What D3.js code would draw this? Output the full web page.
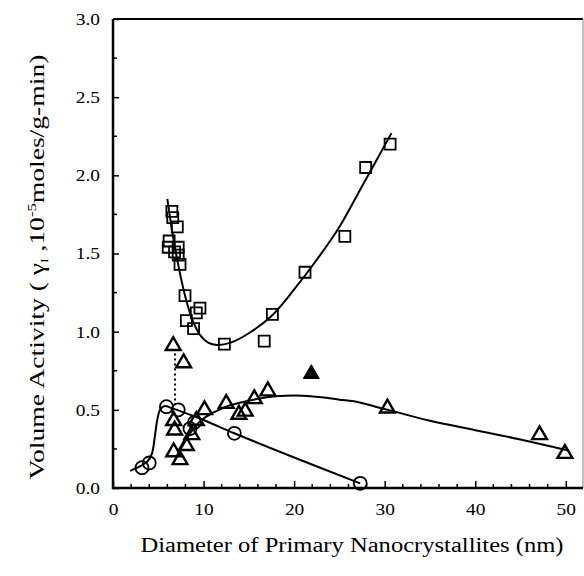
<!DOCTYPE html>
<html>
<head>
<meta charset="utf-8">
<script src="https://cdn.jsdelivr.net/npm/d3@7"></script>
<style>
  body { margin: 0; background: #fff; }
</style>
</head>
<body>
<div id="chart"></div>
<script>
var width = 584, height = 576;
var padding = { t: 19, r: 1, b: 88, l: 113 };
var chartWidth = width - padding.l - padding.r;
var chartHeight = height - padding.t - padding.b;
var serif = "'Liberation Serif', 'Times New Roman', Times, serif";
var stretch = 1.14; //the scanned figure is a bit wider than plain Times

//Open squares [diameter, activity]
var squares = [[6.1,1.54],[6.2,1.58],[6.5,1.77],[6.6,1.73],[7.1,1.67],[6.8,1.51],[7.2,1.54],
    [7.2,1.49],[7.4,1.43],[7.95,1.23],[8.1,1.07],[8.9,1.02],[9.2,1.12],[9.6,1.15],
    [12.3,0.92],[16.7,0.94],[17.6,1.11],[21.2,1.38],[25.6,1.61],[27.9,2.05],[30.6,2.20]];
var squareFit = [[6.0,1.85],[6.6,1.62],[7.3,1.40],[8.0,1.22],[8.8,1.07],[9.6,0.98],[10.5,0.93],
    [11.5,0.915],[13,0.93],[15,0.99],[17.5,1.10],[20,1.27],[22.5,1.46],[25,1.67],[27.5,1.93],[30.75,2.27]];

//Open triangles
var triangles = [[6.65,0.91],[7.8,0.80],[6.7,0.43],[6.8,0.37],[6.7,0.23],[7.4,0.18],[8.1,0.27],
    [8.7,0.34],[9.2,0.43],[10.1,0.50],[12.5,0.54],[13.9,0.47],[14.6,0.49],[15.6,0.57],
    [17.1,0.62],[30.3,0.51],[47.1,0.34],[49.9,0.22]];
var triangleFit = [[7.0,0.20],[8.0,0.30],[9.0,0.39],[10,0.445],[11,0.48],[12.5,0.52],[14,0.545],
    [15.5,0.565],[17,0.58],[19,0.59],[21,0.59],[23,0.58],[25,0.565],[27,0.55],[29,0.52],
    [31,0.49],[35,0.43],[40,0.37],[45,0.31],[50.3,0.24]];

//Filled triangle
var filledTriangles = [[21.9,0.73]];

//Open circles
var circles = [[3.2,0.13],[4.0,0.16],[5.9,0.52],[7.2,0.50],[8.5,0.38],[9.0,0.42],[13.4,0.35],[27.3,0.03]];
var circleFit = [[1.9,0.11],[3.0,0.14],[3.8,0.17],[4.3,0.22],[4.6,0.32],[4.9,0.44],[5.2,0.50],
    [5.7,0.525],[6.5,0.51],[7.5,0.49],[10,0.435],[13.4,0.35],[20,0.195],[27.3,0.03]];

//Dotted connector
var dotted = [[6.85,0.86],[6.85,0.53]];

var xTicks = [0, 10, 20, 30, 40, 50];
var yTicks = [0, 0.5, 1.0, 1.5, 2.0, 2.5, 3.0];

var svg = d3.select("#chart").append("svg")
    .attr("width", width)
    .attr("height", height);

var g = svg.append("g").attr("transform", `translate(${padding.l}, ${padding.t})`);

var xScale = d3.scaleLinear().domain([0, 51.9]).range([0, chartWidth]);
var yScale = d3.scaleLinear().domain([0, 3.0]).range([chartHeight, 0]);

//Frame: thick left/bottom/top, thin right
g.append("line").attr("x1", 0).attr("x2", chartWidth).attr("y1", 0).attr("y2", 0)
    .attr("stroke", "#000").attr("stroke-width", 2);
g.append("line").attr("x1", chartWidth).attr("x2", chartWidth).attr("y1", 0).attr("y2", chartHeight)
    .attr("stroke", "#888").attr("stroke-width", 1);

//Minor ticks, inward
var xMinor = d3.range(2, 52, 2).filter(d => d % 10 !== 0);
g.selectAll(".xminor").data(xMinor).enter().append("line")
    .attr("x1", d => xScale(d)).attr("x2", d => xScale(d))
    .attr("y1", chartHeight).attr("y2", chartHeight - 4)
    .attr("stroke", "#000").attr("stroke-width", 1.5);
var yMinor = d3.range(0.25, 3, 0.5);
g.selectAll(".yminor").data(yMinor).enter().append("line")
    .attr("x1", 0).attr("x2", 4)
    .attr("y1", d => yScale(d)).attr("y2", d => yScale(d))
    .attr("stroke", "#000").attr("stroke-width", 1.5);

var xAxis = g.append("g").attr("transform", `translate(0, ${chartHeight})`)
    .call(d3.axisBottom(xScale).tickValues(xTicks).tickSizeInner(-7).tickSizeOuter(0).tickPadding(15)
        .tickFormat(d3.format("d")));
var yAxis = g.append("g")
    .call(d3.axisLeft(yScale).tickValues(yTicks).tickSizeInner(-6).tickSizeOuter(0).tickPadding(13)
        .tickFormat(d3.format(".1f")));

[xAxis, yAxis].forEach(a => {
    a.attr("font-family", serif).attr("font-size", 17);
    a.select(".domain").attr("stroke-width", 2.5);
    a.selectAll(".tick line").attr("stroke-width", 1.5);
    a.selectAll("text").attr("fill", "#000").each(function () {
        var w = this.getComputedTextLength();
        d3.select(this).attr("textLength", w * stretch).attr("lengthAdjust", "spacingAndGlyphs");
    });
});
xAxis.select(".domain").attr("d", `M-1,0H${chartWidth}`);
yAxis.select(".domain").attr("d", `M0,0V${chartHeight + 1}`);

//Axis titles
svg.append("text")
    .attr("x", 352)
    .attr("y", 552)
    .attr("text-anchor", "middle")
    .attr("font-family", serif)
    .attr("font-size", 20)
    .attr("textLength", 423)
    .attr("lengthAdjust", "spacingAndGlyphs")
    .text("Diameter of Primary Nanocrystallites (nm)");

var yTitle = svg.append("text")
    .attr("text-anchor", "middle")
    .attr("font-family", serif)
    .attr("font-size", 20);
yTitle.append("tspan").text("Volume Activity ( γ");
yTitle.append("tspan").attr("dy", 4).attr("font-size", 10).text("I");
yTitle.append("tspan").attr("dy", -4).text(" ,10");
yTitle.append("tspan").attr("dy", -8).attr("font-size", 12).text("-5");
yTitle.append("tspan").attr("dy", 8).text("moles/g-min)");
var yTitleLen = yTitle.node().getComputedTextLength();
yTitle.attr("transform", `translate(44, 267) rotate(-90) scale(${425 / yTitleLen}, 1)`);

//Fit lines
var line = d3.line()
    .x(d => xScale(d[0]))
    .y(d => yScale(d[1]))
    .curve(d3.curveCatmullRom.alpha(0.5));

[squareFit, triangleFit, circleFit].forEach(f => {
    g.append("path").datum(f).attr("d", line)
        .attr("fill", "none").attr("stroke", "#000").attr("stroke-width", 2);
});

g.append("path").datum(dotted)
    .attr("d", d3.line().x(d => xScale(d[0])).y(d => yScale(d[1])))
    .attr("stroke", "#000").attr("stroke-width", 2).attr("stroke-dasharray", "2,3");

//Markers
g.selectAll(".sq").data(squares).enter().append("path")
    .attr("transform", d => `translate(${xScale(d[0])}, ${yScale(d[1])})`)
    .attr("d", d3.symbol(d3.symbolSquare, 121))
    .attr("fill", "none").attr("stroke", "#000").attr("stroke-width", 1.8);

g.selectAll(".ci").data(circles).enter().append("circle")
    .attr("cx", d => xScale(d[0])).attr("cy", d => yScale(d[1])).attr("r", 6.5)
    .attr("fill", "none").attr("stroke", "#000").attr("stroke-width", 1.8);

g.selectAll(".tr").data(triangles).enter().append("path")
    .attr("transform", d => `translate(${xScale(d[0])}, ${yScale(d[1])})`)
    .attr("d", d3.symbol(d3.symbolTriangle, 95))
    .attr("fill", "none").attr("stroke", "#000").attr("stroke-width", 2.4);

g.selectAll(".ft").data(filledTriangles).enter().append("path")
    .attr("transform", d => `translate(${xScale(d[0])}, ${yScale(d[1])})`)
    .attr("d", d3.symbol(d3.symbolTriangle, 110))
    .attr("fill", "#000").attr("stroke", "#000").attr("stroke-width", 1);
</script>
</body>
</html>
